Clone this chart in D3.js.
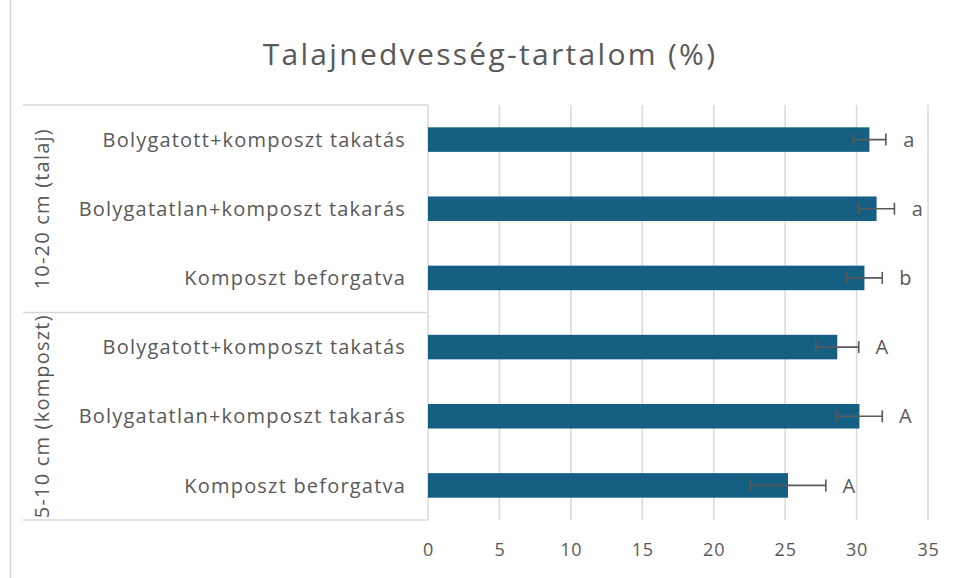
<!DOCTYPE html>
<html>
<head>
<meta charset="utf-8">
<script src="https://cdn.jsdelivr.net/npm/d3@7"></script>
<style>
  body { margin: 0; background: #fff; }
  text { font-family: "Open Sans", "Noto Sans", sans-serif; fill: #595959; }
</style>
</head>
<body>
<div class="chart"></div>
<script>
// data, listed top to bottom as drawn
var groups = ["10-20 cm (talaj)", "5-10 cm (komposzt)"];
var treatments = ["Bolygatott+komposzt takatás", "Bolygatatlan+komposzt takarás", "Komposzt beforgatva"];
var values = [30.9, 31.4, 30.55, 28.65, 30.2, 25.2];
var errors = [1.15, 1.25, 1.25, 1.5, 1.6, 2.65];
var letters = ["a", "a", "b", "A", "A", "A"];
var xTicks = [0, 5, 10, 15, 20, 25, 30, 35];

var svgWidth = 957;
var svgHeight = 578;

var margin = { top: 105, right: 29, bottom: 58, left: 428 };
var width = svgWidth - margin.left - margin.right;
var height = svgHeight - margin.top - margin.bottom;

var rows = [];
groups.forEach(function(g, gi) {
  treatments.forEach(function(t, ti) {
    var i = gi * treatments.length + ti;
    rows.push({ key: g + "|" + t, group: g, name: t, value: values[i], err: errors[i], letter: letters[i] });
  });
});

var svg = d3.select(".chart")
  .append("svg")
  .attr("width", svgWidth)
  .attr("height", svgHeight);

// outer chart border (left edge only is visible)
svg.append("line")
  .attr("x1", 10.5).attr("x2", 10.5)
  .attr("y1", 0).attr("y2", svgHeight)
  .attr("stroke", "#d9d9d9").attr("stroke-width", 1.5);

// title
svg.append("text")
  .attr("x", 490)
  .attr("y", 65)
  .attr("text-anchor", "middle")
  .style("font-size", "30px")
  .style("letter-spacing", "2.3px")
  .text("Talajnedvesség-tartalom (%)");

var chartGroup = svg.append("g")
  .attr("transform", `translate(${margin.left}, ${margin.top})`);

var xScale = d3.scaleLinear().domain([0, 35]).range([0, width]);
var yScale = d3.scaleBand()
  .domain(rows.map(d => d.key))
  .range([0, height])
  .paddingInner(0.645)
  .paddingOuter(0.3225);

// gridlines
chartGroup.selectAll(".grid")
  .data(xTicks.slice(1))
  .enter()
  .append("line")
  .attr("x1", d => xScale(d)).attr("x2", d => xScale(d))
  .attr("y1", 0).attr("y2", height)
  .attr("stroke", "#d9d9d9").attr("stroke-width", 1.5);

// x axis labels
var bottomAxis = d3.axisBottom(xScale).tickValues(xTicks).tickSize(0).tickPadding(23);
var xAxis = chartGroup.append("g")
  .attr("transform", `translate(0, ${height})`)
  .call(bottomAxis);
xAxis.select(".domain").remove();
xAxis.selectAll("text")
  .style("font-size", "18px")
  .style("letter-spacing", "0.8px")
  .attr("fill", "#595959");

// category axis frame
var catLeft = 23 - margin.left;
[0, yScale.step() * 3, height].forEach(function(y) {
  chartGroup.append("line")
    .attr("x1", catLeft).attr("x2", 0)
    .attr("y1", y).attr("y2", y)
    .attr("stroke", "#d9d9d9").attr("stroke-width", 1.5);
});
chartGroup.append("line")
  .attr("x1", 0).attr("x2", 0)
  .attr("y1", 0).attr("y2", height)
  .attr("stroke", "#d9d9d9").attr("stroke-width", 1.5);

// bars
chartGroup.selectAll(".bar")
  .data(rows)
  .enter()
  .append("rect")
  .attr("x", 0)
  .attr("y", d => yScale(d.key))
  .attr("width", d => xScale(d.value))
  .attr("height", yScale.bandwidth())
  .attr("fill", "#156082");

// error bars
var errGroup = chartGroup.selectAll(".err")
  .data(rows)
  .enter()
  .append("g")
  .attr("stroke", "#595959")
  .attr("stroke-width", 1.6);
errGroup.append("line")
  .attr("x1", d => xScale(d.value - d.err)).attr("x2", d => xScale(d.value + d.err))
  .attr("y1", d => yScale(d.key) + yScale.bandwidth() / 2)
  .attr("y2", d => yScale(d.key) + yScale.bandwidth() / 2);
errGroup.append("line")
  .attr("x1", d => xScale(d.value - d.err)).attr("x2", d => xScale(d.value - d.err))
  .attr("y1", d => yScale(d.key) + yScale.bandwidth() / 2 - 6)
  .attr("y2", d => yScale(d.key) + yScale.bandwidth() / 2 + 6);
errGroup.append("line")
  .attr("x1", d => xScale(d.value + d.err)).attr("x2", d => xScale(d.value + d.err))
  .attr("y1", d => yScale(d.key) + yScale.bandwidth() / 2 - 6)
  .attr("y2", d => yScale(d.key) + yScale.bandwidth() / 2 + 6);

// significance letters
chartGroup.selectAll(".letter")
  .data(rows)
  .enter()
  .append("text")
  .attr("x", d => xScale(d.value + d.err) + 23)
  .attr("y", d => yScale(d.key) + yScale.bandwidth() / 2)
  .attr("dy", "0.36em")
  .attr("text-anchor", "middle")
  .style("font-size", "20px")
  .text(d => d.letter);

// treatment labels
chartGroup.selectAll(".cat")
  .data(rows)
  .enter()
  .append("text")
  .attr("x", -22)
  .attr("y", d => yScale(d.key) + yScale.bandwidth() / 2)
  .attr("dy", "0.36em")
  .attr("text-anchor", "end")
  .style("font-size", "20px")
  .style("letter-spacing", "1.2px")
  .text(d => d.name);

// group labels, rotated
chartGroup.selectAll(".grp")
  .data(groups)
  .enter()
  .append("text")
  .attr("transform", (d, i) => `translate(${42 - margin.left}, ${yScale.step() * 3 * (i + 0.5)}) rotate(-90)`)
  .attr("dy", "0.36em")
  .attr("text-anchor", "middle")
  .style("font-size", "20px")
  .style("letter-spacing", "1.2px")
  .text(d => d);
</script>
</body>
</html>
